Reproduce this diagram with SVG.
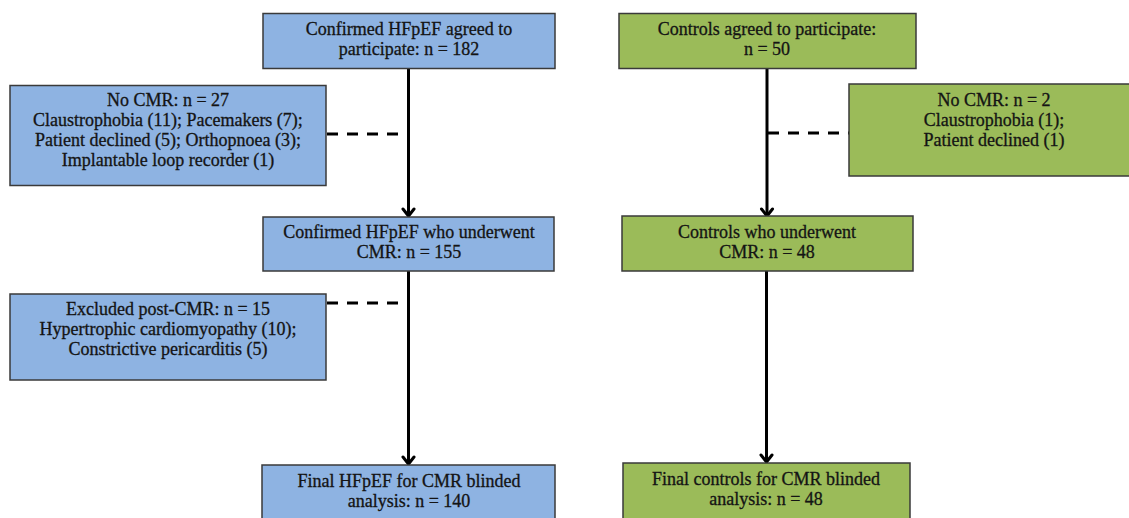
<svg xmlns="http://www.w3.org/2000/svg" width="1129" height="518" viewBox="0 0 1129 518">
<style>
.blue{fill:#8EB3E2;stroke:#3a3a3a;stroke-width:1.5}
.green{fill:#9BBB59;stroke:#3a3a3a;stroke-width:1.5}
text{font-family:"Liberation Serif","Times New Roman",serif;font-size:18px;fill:#141414;stroke:#141414;stroke-width:0.3;text-anchor:middle}
.solid{stroke:#000;stroke-width:3;fill:none}
.dash{stroke:#000;stroke-width:3;fill:none;stroke-dasharray:11 9}
</style>
<defs>
<marker id="arrow" markerUnits="userSpaceOnUse" markerWidth="16" markerHeight="12" refX="8" refY="10" orient="0" viewBox="0 0 16 12">
<path d="M2.5,3 L8,10 L13.5,3" fill="none" stroke="#000" stroke-width="3" stroke-linecap="round" stroke-linejoin="round"/>
</marker>
</defs>
<g id="connectors">
<line class="solid" x1="408.5" y1="69" x2="408.5" y2="216" marker-end="url(#arrow)"/>
<line class="solid" x1="408.5" y1="271" x2="408.5" y2="464" marker-end="url(#arrow)"/>
<line class="solid" x1="767" y1="69" x2="767" y2="216" marker-end="url(#arrow)"/>
<line class="solid" x1="766.5" y1="271" x2="766.5" y2="462" marker-end="url(#arrow)"/>
<line class="dash" x1="327" y1="134" x2="408" y2="134"/>
<line class="dash" x1="327" y1="303" x2="408" y2="303"/>
<line class="dash" x1="768" y1="133" x2="849" y2="133"/>
</g>
<g id="hfpef_agreed">
<rect class="blue" x="263" y="13.5" width="292" height="55"/>
<text x="409" y="35">Confirmed HFpEF agreed to</text>
<text x="409" y="55">participate: n = 182</text>
</g>
<g id="hfpef_nocmr">
<rect class="blue" x="10" y="85.5" width="316" height="100"/>
<text x="168" y="106">No CMR: n = 27</text>
<text x="168" y="126">Claustrophobia (11); Pacemakers (7);</text>
<text x="168" y="146">Patient declined (5); Orthopnoea (3);</text>
<text x="168" y="166">Implantable loop recorder (1)</text>
</g>
<g id="hfpef_cmr">
<rect class="blue" x="263" y="217" width="291" height="54"/>
<text x="409" y="238">Confirmed HFpEF who underwent</text>
<text x="409" y="258">CMR: n = 155</text>
</g>
<g id="hfpef_excluded">
<rect class="blue" x="10" y="294" width="316" height="86"/>
<text x="168" y="315">Excluded post-CMR: n = 15</text>
<text x="168" y="335">Hypertrophic cardiomyopathy (10);</text>
<text x="168" y="355">Constrictive pericarditis (5)</text>
</g>
<g id="hfpef_final">
<rect class="blue" x="262" y="465" width="293" height="60"/>
<text x="409" y="487">Final HFpEF for CMR blinded</text>
<text x="409" y="507">analysis: n = 140</text>
</g>
<g id="controls_agreed">
<rect class="green" x="619" y="13.5" width="297" height="55"/>
<text x="767" y="35">Controls agreed to participate:</text>
<text x="767" y="55">n = 50</text>
</g>
<g id="controls_nocmr">
<rect class="green" x="849" y="84" width="290" height="92"/>
<text x="994" y="106">No CMR: n = 2</text>
<text x="994" y="126">Claustrophobia (1);</text>
<text x="994" y="146">Patient declined (1)</text>
</g>
<g id="controls_cmr">
<rect class="green" x="622" y="216" width="291" height="55"/>
<text x="767" y="238">Controls who underwent</text>
<text x="767" y="258">CMR: n = 48</text>
</g>
<g id="controls_final">
<rect class="green" x="623" y="463" width="287" height="60"/>
<text x="766" y="485">Final controls for CMR blinded</text>
<text x="766" y="505">analysis: n = 48</text>
</g>
</svg>
